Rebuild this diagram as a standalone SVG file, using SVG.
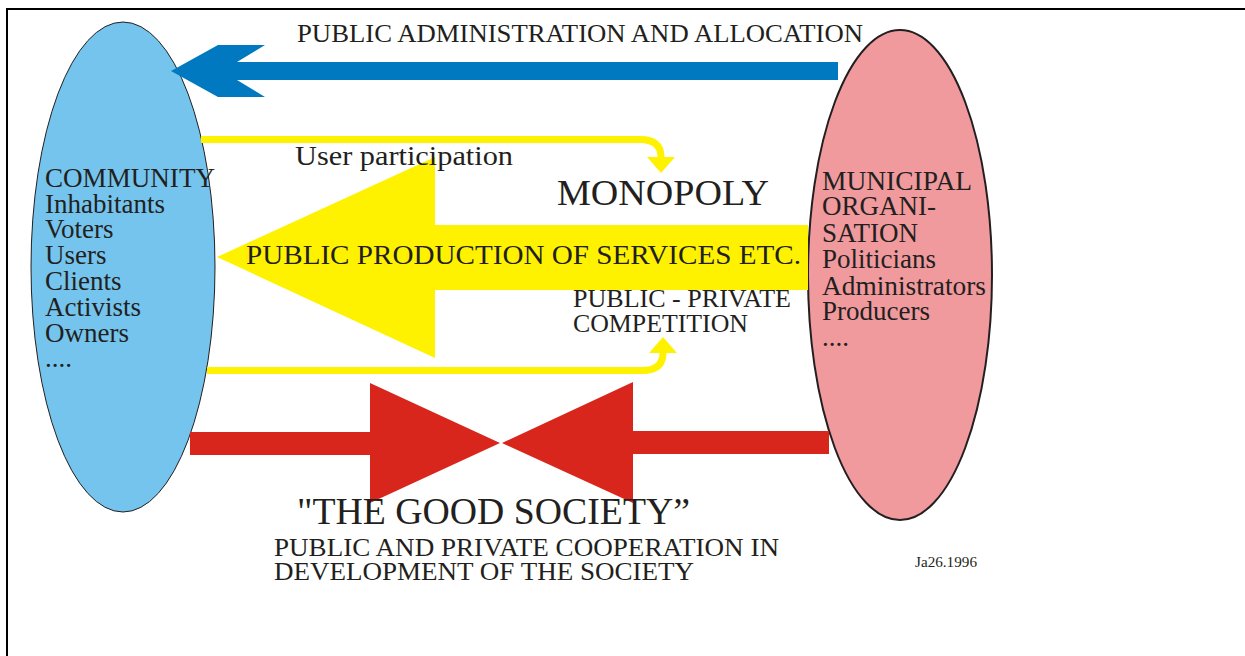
<svg xmlns="http://www.w3.org/2000/svg" width="1245" height="656" viewBox="0 0 1245 656">
  <style>
    text { font-family: "Liberation Serif", "Times New Roman", serif; fill: #231f20; }
    .list { font-size: 27px; }
    .lbl { font-size: 25px; }
    .yline { fill: none; stroke: #fff200; stroke-width: 7; }
    .yfill { fill: #fff200; }
    .red { fill: #d9261c; }
    .blue { fill: #0079c1; }
  </style>

  <!-- page frame -->
  <g id="frame" fill="none" stroke="#000" stroke-width="2">
    <path d="M7,656 V9 H1245"/>
  </g>

  <!-- community node -->
  <g id="community">
    <ellipse cx="123" cy="267" rx="92" ry="245" fill="#74c4ee" stroke="#231f20" stroke-width="1"/>
    <text class="list" x="45" y="187" textLength="170" lengthAdjust="spacingAndGlyphs">COMMUNITY</text>
    <text class="list" x="45" y="213">Inhabitants</text>
    <text class="list" x="45" y="238">Voters</text>
    <text class="list" x="45" y="264">Users</text>
    <text class="list" x="45" y="290">Clients</text>
    <text class="list" x="45" y="316">Activists</text>
    <text class="list" x="45" y="342">Owners</text>
    <text class="list" x="45" y="367">....</text>
  </g>

  <!-- municipal organisation node -->
  <g id="municipal">
    <ellipse cx="900" cy="275" rx="92" ry="245" fill="#f09a9e" stroke="#231f20" stroke-width="2"/>
    <text class="list" x="822" y="190" textLength="150" lengthAdjust="spacingAndGlyphs">MUNICIPAL</text>
    <text class="list" x="822" y="215">ORGANI-</text>
    <text class="list" x="822" y="242">SATION</text>
    <text class="list" x="822" y="268">Politicians</text>
    <text class="list" x="822" y="295" textLength="164" lengthAdjust="spacingAndGlyphs">Administrators</text>
    <text class="list" x="822" y="320">Producers</text>
    <text class="list" x="822" y="346">....</text>
  </g>

  <!-- connectors -->
  <g id="connectors">
    <!-- administration and allocation -->
    <polygon class="blue" points="838,62 237,62 265,45 218,45 171,71 218,97 265,97 237,80 838,80"/>

    <!-- user participation / competition bends -->
    <path class="yline" d="M201,139.5 H640 Q661,139.5 661,157"/>
    <polygon class="yfill" points="647,157 675,157 661,173"/>
    <path class="yline" d="M207,370.5 H642 Q663,370.5 663,353"/>
    <polygon class="yfill" points="649,353 677,353 663,337"/>

    <!-- public production -->
    <polygon class="yfill" points="808,225 435,225 435,157 217,257 435,358 435,290 808,290"/>

    <!-- good society: opposing arrows -->
    <polygon class="red" points="190,432 370,432 370,383 500,443 370,503 370,455 190,455"/>
    <polygon class="red" points="829,431 633,431 633,382 502,443 633,503 633,454 829,454"/>
  </g>

  <!-- labels -->
  <g id="labels">
    <text x="297" y="42" font-size="25" textLength="566" lengthAdjust="spacingAndGlyphs">PUBLIC ADMINISTRATION AND ALLOCATION</text>
    <text x="295" y="165" font-size="28" textLength="218" lengthAdjust="spacingAndGlyphs">User participation</text>
    <text x="557" y="205" font-size="36" textLength="212" lengthAdjust="spacingAndGlyphs">MONOPOLY</text>
    <text x="246" y="264" font-size="28" textLength="555" lengthAdjust="spacingAndGlyphs">PUBLIC PRODUCTION OF SERVICES ETC.</text>
    <text class="lbl" x="573" y="307" textLength="218" lengthAdjust="spacingAndGlyphs">PUBLIC - PRIVATE</text>
    <text class="lbl" x="573" y="332" textLength="175" lengthAdjust="spacingAndGlyphs">COMPETITION</text>
    <text x="297" y="524" font-size="37" textLength="393" lengthAdjust="spacingAndGlyphs">"THE GOOD SOCIETY”</text>
    <text class="lbl" x="274" y="556" textLength="505" lengthAdjust="spacingAndGlyphs">PUBLIC AND PRIVATE COOPERATION IN</text>
    <text class="lbl" x="274" y="580" textLength="420" lengthAdjust="spacingAndGlyphs">DEVELOPMENT OF THE SOCIETY</text>
    <text x="915" y="567" font-size="14" textLength="62" lengthAdjust="spacingAndGlyphs">Ja26.1996</text>
  </g>
</svg>
